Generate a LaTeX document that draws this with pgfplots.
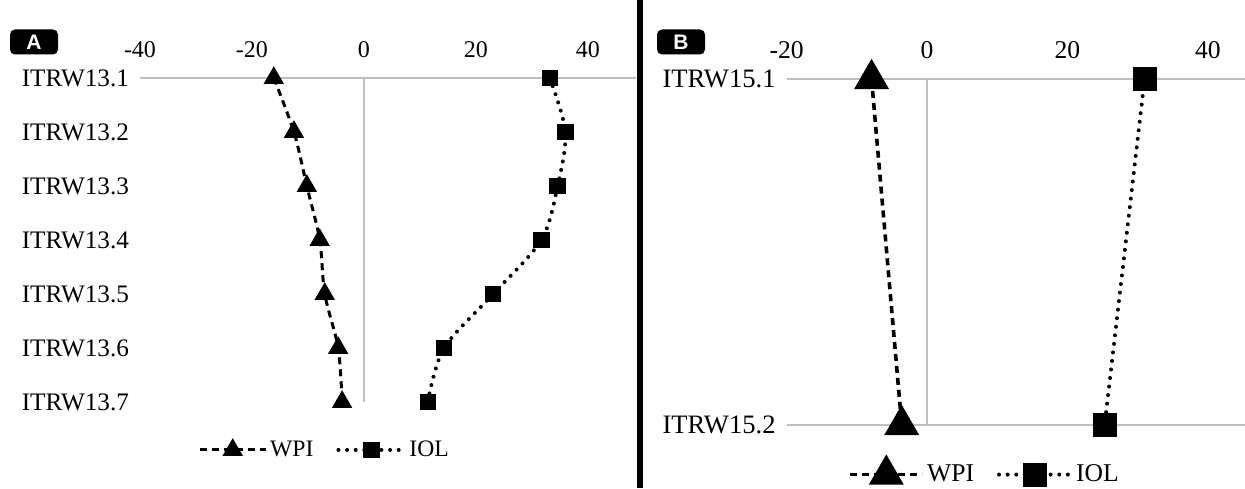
\documentclass[border=0pt]{standalone}
\usepackage{pgfplots}
\pgfplotsset{compat=1.18}
\usepackage{fontspec}
\setmainfont{Liberation Serif}
\setsansfont{Liberation Sans}
\definecolor{gridgray}{RGB}{191,191,191}

\pgfplotsset{
  panel/.style={
    scale only axis, clip=false,
    axis x line*=top, axis y line*=left,
    axis line style={draw=none},
    major tick length=0pt,
    y dir=reverse,
    xticklabel style={yshift=6.5pt},
    yticklabel style={xshift=-2pt},
    legend columns=2,
    legend cell align=left,
    legend style={draw=none, fill=none, inner sep=0pt, anchor=center,
      nodes={inner sep=1.5pt},
      /tikz/every even column/.append style={column sep=10pt}},
  },
  wpi/.style={black, line width=1.5pt, dash pattern=on 3.5pt off 2.5pt,
    mark=triangle*, mark options={solid}},
  iol/.style={black, line width=2pt, line cap=round, dash pattern=on 0pt off 4.3pt,
    mark=square*, mark options={solid}},
}

\begin{document}
\begin{tikzpicture}
\useasboundingbox (0,0) rectangle (622.5pt,244pt);
\fill[white] (0,0) rectangle (622.5pt,244pt);

% ---------------- Panel A ----------------
\begin{axis}[panel,
  at={(70pt,43pt)}, anchor=south west,
  width=248pt, height=162pt,
  xmin=-40, xmax=48.6, ymin=1, ymax=7,
  xtick={-40,-20,0,20,40},
  xticklabels={-40,-20,0,20,40},
  ytick={1,2,3,4,5,6,7},
  yticklabels={ITRW13.1,ITRW13.2,ITRW13.3,ITRW13.4,ITRW13.5,ITRW13.6,ITRW13.7},
  xticklabel style={font=\fontsize{12}{14}\selectfont},
  yticklabel style={font=\fontsize{12.6}{14}\selectfont},
  legend style={at={(0.373,-0.148)}, font=\fontsize{11.8}{14}\selectfont},
  legend image code/.code={\draw[mark repeat=2,mark phase=2,#1]
     plot coordinates {(0pt,0pt) (16.5pt,0pt) (33pt,0pt)};},
]
\draw[gridgray, line width=1pt] (axis cs:-40,1) -- (axis cs:48.6,1);
\draw[gridgray, line width=1pt] (axis cs:0,1) -- (axis cs:0,7);
\addplot[wpi, smooth, mark size=4.4pt] coordinates {
  (-16.1,1) (-12.5,2) (-10.2,3) (-7.9,4) (-7.0,5) (-4.6,6) (-3.9,7)};
\addlegendentry{WPI}
\addplot[iol, smooth, mark size=3.1pt] coordinates {
  (33.2,1) (36.0,2) (34.6,3) (31.7,4) (23.1,5) (14.3,6) (11.4,7)};
\addlegendentry{IOL}
\end{axis}

% ---------------- Panel B ----------------
\begin{axis}[panel,
  at={(393.3pt,31.5pt)}, anchor=south west,
  width=229.2pt, height=173pt,
  xmin=-20, xmax=45.3, ymin=1, ymax=2,
  xtick={-20,0,20,40},
  xticklabels={-20,0,20,40},
  ytick={1,2},
  yticklabels={ITRW15.1,ITRW15.2},
  xticklabel style={font=\fontsize{12.8}{15}\selectfont},
  yticklabel style={font=\fontsize{13.3}{15}\selectfont},
  legend style={at={(0.433,-0.138)}, font=\fontsize{12.8}{15}\selectfont},
  legend image code/.code={\draw[mark repeat=2,mark phase=2,#1]
     plot coordinates {(0pt,0pt) (18pt,0pt) (36pt,0pt)};},
]
\draw[gridgray, line width=1pt] (axis cs:-20,1) -- (axis cs:45.3,1);
\draw[gridgray, line width=1pt] (axis cs:-20,2) -- (axis cs:45.3,2);
\draw[gridgray, line width=1pt] (axis cs:0,1) -- (axis cs:0,2);
\addplot[wpi, line width=1.8pt, mark size=8.3pt] coordinates {(-7.9,1) (-3.6,2)};
\addlegendentry{WPI}
\addplot[iol, mark size=5pt] coordinates {(31.0,1) (25.3,2)};
\addlegendentry{IOL}
\end{axis}

% divider and panel labels
\draw[black, line width=3pt] (319.8pt,0pt) -- (319.8pt,244pt);
\node[fill=black, text=white, rounded corners=2.5pt, minimum width=24pt,
  minimum height=12.5pt, inner sep=0pt, font=\sffamily\bfseries\fontsize{10.5}{12}\selectfont]
  at (17pt,223pt) {A};
\node[fill=black, text=white, rounded corners=2.5pt, minimum width=24pt,
  minimum height=12.5pt, inner sep=0pt, font=\sffamily\bfseries\fontsize{10.5}{12}\selectfont]
  at (340.5pt,223pt) {B};
\end{tikzpicture}
\end{document}
